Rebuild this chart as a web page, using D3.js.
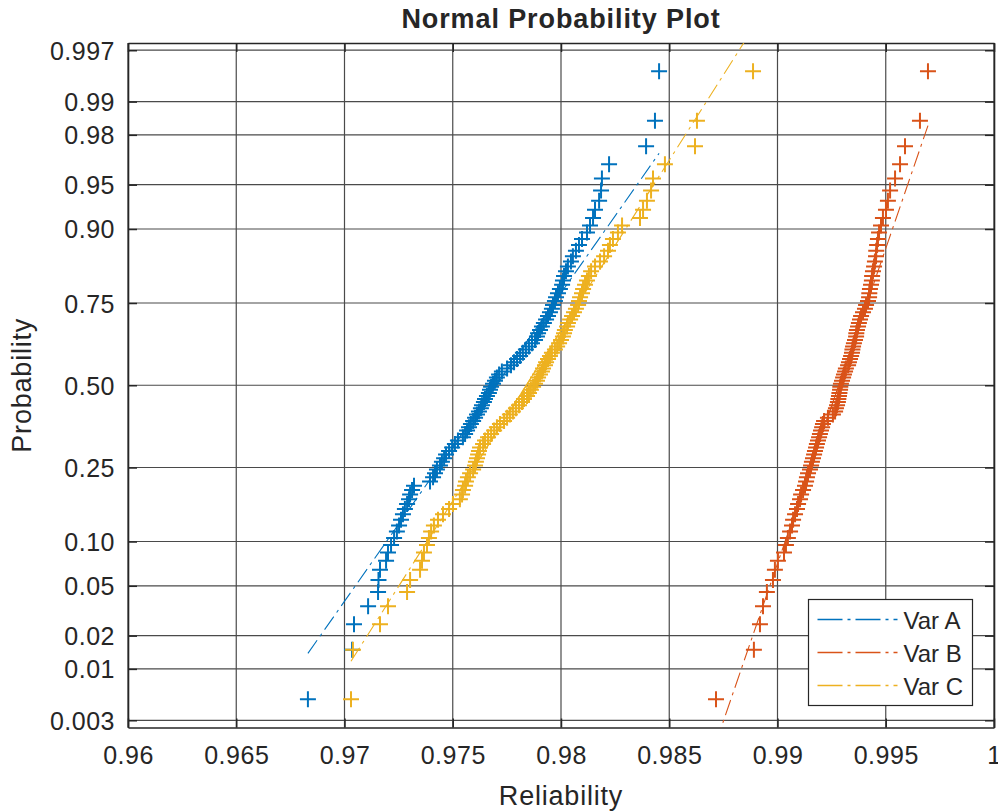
<!DOCTYPE html>
<html>
<head>
<meta charset="utf-8">
<script src="https://cdn.jsdelivr.net/npm/d3@7"></script>
<style>
  body { margin: 0; background: #fff; }
  svg text { font-family: "Liberation Sans", Arial, Helvetica, sans-serif; fill: #262626; }
</style>
</head>
<body>
<div id="chart"></div>
<script>
// sorted samples (100 per variable)
var varA = [
  0.96831, 0.97035, 0.97044, 0.97109, 0.97155, 0.97157, 0.97164, 0.97192, 0.97201, 0.97215,
  0.97229, 0.97242, 0.97252, 0.97261, 0.97270, 0.97279, 0.97289, 0.97298, 0.97303, 0.97312,
  0.97321, 0.97395, 0.97409, 0.97418, 0.97427, 0.97441, 0.97450, 0.97460, 0.97469, 0.97483,
  0.97497, 0.97510, 0.97524, 0.97547, 0.97557, 0.97566, 0.97575, 0.97584, 0.97594, 0.97603,
  0.97612, 0.97621, 0.97630, 0.97635, 0.97644, 0.97649, 0.97658, 0.97667, 0.97672, 0.97677,
  0.97686, 0.97695, 0.97704, 0.97714, 0.97727, 0.97751, 0.97769, 0.97783, 0.97797, 0.97811,
  0.97824, 0.97838, 0.97852, 0.97866, 0.97880, 0.97889, 0.97894, 0.97903, 0.97912, 0.97921,
  0.97931, 0.97940, 0.97949, 0.97958, 0.97963, 0.97972, 0.97977, 0.97986, 0.97995, 0.98005,
  0.98009, 0.98014, 0.98023, 0.98032, 0.98046, 0.98055, 0.98069, 0.98083, 0.98097, 0.98120,
  0.98134, 0.98148, 0.98157, 0.98176, 0.98185, 0.98189, 0.98222, 0.98393, 0.98434, 0.98453
];
var varB = [
  0.98716, 0.98891, 0.98919, 0.98933, 0.98951, 0.98979, 0.98988, 0.99002, 0.99030, 0.99039,
  0.99048, 0.99058, 0.99067, 0.99072, 0.99081, 0.99090, 0.99095, 0.99104, 0.99109, 0.99118,
  0.99127, 0.99132, 0.99136, 0.99141, 0.99150, 0.99155, 0.99159, 0.99164, 0.99169, 0.99173,
  0.99178, 0.99182, 0.99187, 0.99192, 0.99196, 0.99201, 0.99206, 0.99210, 0.99215, 0.99233,
  0.99256, 0.99266, 0.99270, 0.99275, 0.99279, 0.99281, 0.99284, 0.99286, 0.99289, 0.99290,
  0.99293, 0.99298, 0.99303, 0.99307, 0.99312, 0.99316, 0.99326, 0.99330, 0.99335, 0.99340,
  0.99344, 0.99346, 0.99349, 0.99353, 0.99358, 0.99363, 0.99364, 0.99367, 0.99372, 0.99376,
  0.99381, 0.99386, 0.99395, 0.99404, 0.99409, 0.99418, 0.99423, 0.99424, 0.99427, 0.99432,
  0.99436, 0.99437, 0.99441, 0.99446, 0.99450, 0.99455, 0.99456, 0.99460, 0.99464, 0.99469,
  0.99478, 0.99487, 0.99501, 0.99510, 0.99520, 0.99543, 0.99566, 0.99589, 0.99658, 0.99695
];
var varC = [
  0.97030, 0.97039, 0.97164, 0.97201, 0.97289, 0.97303, 0.97349, 0.97358, 0.97367, 0.97381,
  0.97390, 0.97400, 0.97413, 0.97432, 0.97455, 0.97483, 0.97501, 0.97533, 0.97543, 0.97547,
  0.97557, 0.97561, 0.97570, 0.97580, 0.97594, 0.97603, 0.97607, 0.97612, 0.97617, 0.97621,
  0.97626, 0.97640, 0.97649, 0.97663, 0.97677, 0.97691, 0.97704, 0.97718, 0.97737, 0.97751,
  0.97764, 0.97778, 0.97792, 0.97806, 0.97820, 0.97829, 0.97843, 0.97852, 0.97861, 0.97871,
  0.97880, 0.97889, 0.97894, 0.97903, 0.97912, 0.97917, 0.97926, 0.97931, 0.97940, 0.97949,
  0.97958, 0.97972, 0.97982, 0.97991, 0.98000, 0.98009, 0.98014, 0.98018, 0.98028, 0.98032,
  0.98042, 0.98051, 0.98060, 0.98069, 0.98079, 0.98083, 0.98088, 0.98097, 0.98102, 0.98111,
  0.98120, 0.98129, 0.98139, 0.98157, 0.98180, 0.98199, 0.98217, 0.98226, 0.98240, 0.98263,
  0.98282, 0.98365, 0.98379, 0.98397, 0.98416, 0.98425, 0.98480, 0.98619, 0.98628, 0.98887
];
var seriesNames = ["Var A", "Var B", "Var C"];
var seriesColors = ["#0072BD", "#D95319", "#EDB120"];

var xTicks = [0.96, 0.965, 0.97, 0.975, 0.98, 0.985, 0.99, 0.995, 1];
var xTickLabels = ["0.96", "0.965", "0.97", "0.975", "0.98", "0.985", "0.99", "0.995", "1"];
var probTicks = [0.003, 0.01, 0.02, 0.05, 0.10, 0.25, 0.50, 0.75, 0.90, 0.95, 0.98, 0.99, 0.997];
var probTickLabels = ["0.003", "0.01", "0.02", "0.05", "0.10", "0.25", "0.50", "0.75", "0.90", "0.95", "0.98", "0.99", "0.997"];
var xLimits = [0.96, 1];
var probLimits = [0.0025, 0.9975];

var w = 998, h = 811;
var margin = {left: 128, right: 4, top: 43, bottom: 83.5};

// inverse normal cdf (Acklam's approximation)
function norminv(p) {
  var a = [-3.969683028665376e+01, 2.209460984245205e+02, -2.759285104469687e+02, 1.383577518672690e+02, -3.066479806614716e+01, 2.506628277459239e+00];
  var b = [-5.447609879822406e+01, 1.615858368580409e+02, -1.556989798598866e+02, 6.680131188771972e+01, -1.328068155288572e+01];
  var c = [-7.784894002430293e-03, -3.223964580411365e-01, -2.400758277161838e+00, -2.549732539343734e+00, 4.374664141464968e+00, 2.938163982698783e+00];
  var d = [7.784695709041462e-03, 3.224671290700398e-01, 2.445134137142996e+00, 3.754408661907416e+00];
  var pl = 0.02425, q, r;
  if (p < pl) {
    q = Math.sqrt(-2 * Math.log(p));
    return (((((c[0]*q+c[1])*q+c[2])*q+c[3])*q+c[4])*q+c[5]) / ((((d[0]*q+d[1])*q+d[2])*q+d[3])*q+1);
  } else if (p <= 1 - pl) {
    q = p - 0.5; r = q * q;
    return (((((a[0]*r+a[1])*r+a[2])*r+a[3])*r+a[4])*r+a[5])*q / (((((b[0]*r+b[1])*r+b[2])*r+b[3])*r+b[4])*r+1);
  }
  q = Math.sqrt(-2 * Math.log(1 - p));
  return -(((((c[0]*q+c[1])*q+c[2])*q+c[3])*q+c[4])*q+c[5]) / ((((d[0]*q+d[1])*q+d[2])*q+d[3])*q+1);
}

// matlab style percentile
function prctile(s, p) {
  var n = s.length, pos = n * p + 0.5;
  var lo = Math.floor(pos), f = pos - lo;
  if (lo < 1) return s[0];
  if (lo >= n) return s[n - 1];
  return s[lo - 1] + f * (s[lo] - s[lo - 1]);
}

var x = d3.scaleLinear().domain(xLimits).range([margin.left, w - margin.right]);
var y = d3.scaleLinear().domain(probLimits.map(norminv)).range([h - margin.bottom, margin.top]);

var svg = d3.select("#chart").append("svg")
  .attr("width", w)
  .attr("height", h);

svg.append("defs").append("clipPath").attr("id", "plotclip")
  .append("rect")
    .attr("x", margin.left).attr("y", margin.top)
    .attr("width", w - margin.left - margin.right)
    .attr("height", h - margin.top - margin.bottom);

// grid
var grid = svg.append("g").attr("stroke", "#4a4a4a").attr("stroke-width", 1.2);
grid.selectAll(".gx").data(xTicks).enter().append("line")
  .attr("x1", d => x(d)).attr("x2", d => x(d))
  .attr("y1", margin.top).attr("y2", h - margin.bottom);
grid.selectAll(".gy").data(probTicks).enter().append("line")
  .attr("y1", d => y(norminv(d))).attr("y2", d => y(norminv(d)))
  .attr("x1", margin.left).attr("x2", w - margin.right);

// axes
var xAxis = svg.append("g")
  .attr("transform", "translate(0," + (h - margin.bottom) + ")")
  .call(d3.axisBottom(x).tickValues(xTicks).tickFormat((d, i) => xTickLabels[i]).tickSizeInner(-9).tickSizeOuter(0).tickPadding(19));
var xAxisTop = svg.append("g")
  .attr("transform", "translate(0," + margin.top + ")")
  .call(d3.axisTop(x).tickValues(xTicks).tickFormat("").tickSizeInner(-9).tickSizeOuter(0));
var yAxis = svg.append("g")
  .attr("transform", "translate(" + margin.left + ",0)")
  .call(d3.axisLeft(y).tickValues(probTicks.map(norminv)).tickFormat((d, i) => probTickLabels[i]).tickSizeInner(-9).tickSizeOuter(0).tickPadding(13));
var yAxisRight = svg.append("g")
  .attr("transform", "translate(" + (w - margin.right) + ",0)")
  .call(d3.axisRight(y).tickValues(probTicks.map(norminv)).tickFormat("").tickSizeInner(-9).tickSizeOuter(0));

[xAxis, xAxisTop, yAxis, yAxisRight].forEach(function(a) {
  a.select(".domain").attr("stroke", "#262626").attr("stroke-width", 1.6);
  a.selectAll(".tick line").attr("stroke", "#262626").attr("stroke-width", 1.5);
  a.selectAll(".tick text")
    .attr("fill", "#262626")
    .style("font-family", '"Liberation Sans", Arial, sans-serif')
    .style("font-size", "25px")
    .style("letter-spacing", "0.5px");
});
xAxis.selectAll(".tick text").attr("dy", "0.71em");
yAxis.selectAll(".tick text").attr("dy", "0.36em");

var plot = svg.append("g").attr("clip-path", "url(#plotclip)");
var allSeries = [varA, varB, varC];

// data markers
allSeries.forEach(function(s, k) {
  var n = s.length;
  plot.append("g")
    .attr("stroke", seriesColors[k])
    .attr("stroke-width", 2)
    .attr("fill", "none")
    .selectAll("path")
    .data(s)
    .enter().append("path")
      .attr("d", function(d, i) {
        var cx = x(d), cy = y(norminv((i + 0.5) / n));
        return "M" + (cx - 8) + "," + cy + "H" + (cx + 8) + "M" + cx + "," + (cy - 8) + "V" + (cy + 8);
      });
});

// reference lines through the quartiles
var line = d3.line().x(d => x(d[0])).y(d => y(d[1]));
var fits = allSeries.map(function(s) {
  var q1 = prctile(s, 0.25), q3 = prctile(s, 0.75);
  var z1 = norminv(0.25), z3 = norminv(0.75);
  var slope = (z3 - z1) / (q3 - q1);
  var zAt = v => z1 + slope * (v - q1);
  var lo = d3.min(s), hi = d3.max(s);
  return {solid: [[q1, z1], [q3, z3]], dashed: [[lo, zAt(lo)], [hi, zAt(hi)]]};
});
fits.forEach(function(f, k) {
  plot.append("path").datum(f.solid)
    .attr("d", line).attr("fill", "none")
    .attr("stroke", seriesColors[k]).attr("stroke-width", 1.1);
});
fits.forEach(function(f, k) {
  plot.append("path").datum(f.dashed)
    .attr("d", line).attr("fill", "none")
    .attr("stroke", seriesColors[k]).attr("stroke-width", 1.1)
    .attr("stroke-dasharray", "16,5,3,5");
});

// title and labels
svg.append("text")
  .attr("x", (margin.left + w - margin.right) / 2).attr("y", 28)
  .attr("text-anchor", "middle")
  .style("font-size", "27px").style("font-weight", "bold").style("letter-spacing", "0.9px")
  .attr("fill", "#000")
  .text("Normal Probability Plot");
svg.append("text")
  .attr("x", (margin.left + w - margin.right) / 2).attr("y", 805)
  .attr("text-anchor", "middle")
  .style("font-size", "27px").style("letter-spacing", "0.8px")
  .text("Reliability");
svg.append("text")
  .attr("transform", "translate(31," + y(0) + ") rotate(-90)")
  .attr("text-anchor", "middle")
  .style("font-size", "27px").style("letter-spacing", "0.8px")
  .text("Probability");

// legend
var lg = svg.append("g").attr("transform", "translate(808.5,599.5)");
lg.append("rect")
  .attr("width", 164).attr("height", 106)
  .attr("fill", "#fff").attr("stroke", "#262626").attr("stroke-width", 1.2);
seriesNames.forEach(function(name, k) {
  var ly = 20 + k * 33;
  lg.append("line")
    .attr("x1", 9).attr("x2", 89).attr("y1", ly).attr("y2", ly)
    .attr("stroke", seriesColors[k]).attr("stroke-width", 1.3)
    .attr("stroke-dasharray", "25,5,3,5");
  lg.append("text")
    .attr("x", 95).attr("y", ly + 9)
    .style("font-size", "24px")
    .attr("fill", "#000")
    .text(name);
});
</script>
</body>
</html>
